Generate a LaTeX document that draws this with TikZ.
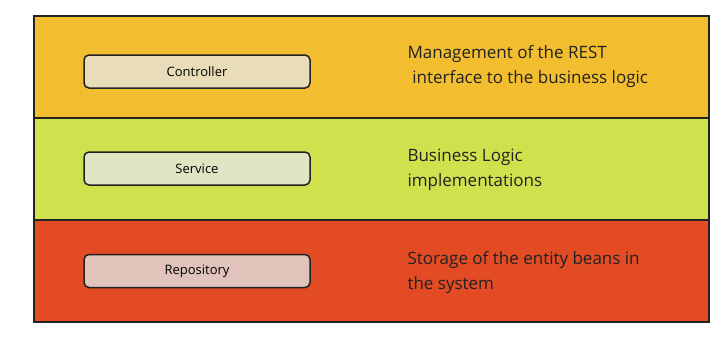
\documentclass[tikz,border=0pt]{standalone}
\usepackage{fontspec}
\setmainfont{Open Sans}
\usetikzlibrary{positioning, calc}
\usepackage{xcolor}
\definecolor{ctrlorange}{HTML}{F2BE2F}
\definecolor{svcgreen}{HTML}{CFE24E}
\definecolor{repored}{HTML}{E24B24}
\definecolor{ctrlfill}{HTML}{E8DDB8}
\definecolor{svcfill}{HTML}{DFE4C3}
\definecolor{repofill}{HTML}{E0C3BA}
\definecolor{edgedark}{HTML}{222222}
\tikzset{
  layer/.style={rectangle, draw=edgedark, line width=2pt, anchor=north west,
                minimum width=675pt, minimum height=102pt, inner sep=0},
  compbox/.style={rectangle, draw=edgedark, line width=1.5pt, rounded corners=5pt,
                  minimum width=226pt, minimum height=33pt, font=\fontsize{13}{15}\selectfont},
  desc/.style={anchor=west, align=left, text=edgedark,
               font=\fontsize{17}{25}\selectfont},
}
\begin{document}
\begin{tikzpicture}[x=1pt, y=-1pt]
  \useasboundingbox (0,0) rectangle (728,338);

  % --- Layers (top to bottom) ---
  \node[layer, fill=ctrlorange] (ctrllayer) at (33,15) {};
  \node[layer, fill=svcgreen]   (svclayer)  at (33,117) {};
  \node[layer, fill=repored]    (repolayer) at (33,219) {};

  % --- Components ---
  \node[compbox, fill=ctrlfill] (ctrl) at (197,71.5) {Controller};
  \node[compbox, fill=svcfill]  (svc)  at (197,168.5) {Service};
  \node[compbox, fill=repofill] (repo) at (197,271) {Repository};

  % --- Descriptions ---
  \node[desc] (ctrldesc) at (404,66.5) {Management of the REST\\\hspace{0.28em}interface to the business logic};
  \node[desc] (svcdesc)  at (404,169.5) {Business Logic\\implementations};
  \node[desc] (repodesc) at (404,272.5) {Storage of the entity beans in\\the system};
\end{tikzpicture}
\end{document}
